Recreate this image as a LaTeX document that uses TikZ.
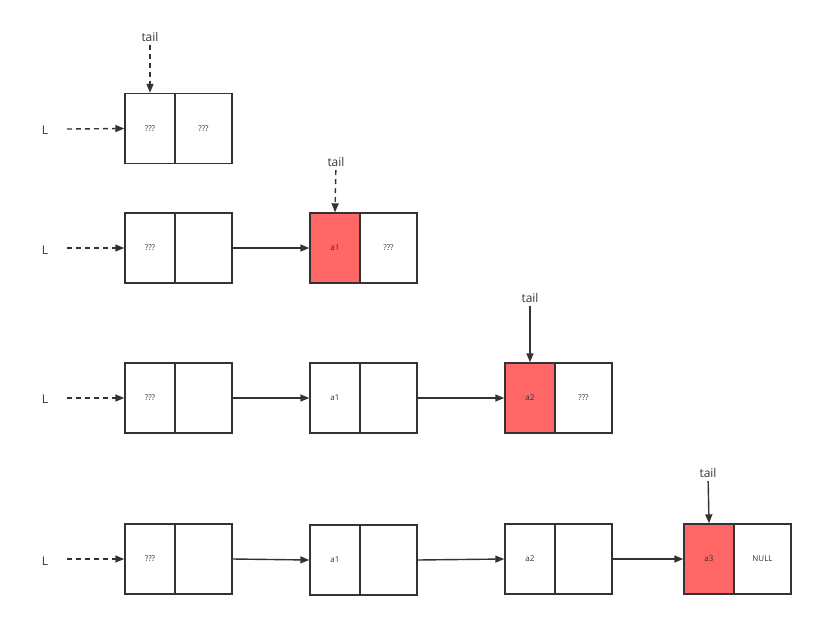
\documentclass[tikz,border=0pt]{standalone}
\usepackage{fontspec}
\setmainfont{Open Sans}
\usetikzlibrary{arrows.meta}
\definecolor{lc}{HTML}{333333}
\definecolor{red}{HTML}{FF6666}
\begin{document}
\begin{tikzpicture}[x=1pt,y=-1pt,
  cell/.style={draw=lc,line width=1.4pt,minimum height=70pt,inner sep=0pt,font=\fontsize{8}{9}\selectfont,text=lc},
  lw/.style={cell,minimum width=50pt},
  rw/.style={cell,minimum width=57pt},
  rd/.style={fill=red},
  lab/.style={font=\fontsize{12}{14}\selectfont,text=lc},
  arr/.style={-{Triangle[length=9pt,width=7pt]},line width=1.4pt,draw=lc},
  darr/.style={arr,dash pattern=on 5pt off 4pt}]
\useasboundingbox (0,0) rectangle (814,619);
% row 1
\node[lw] (a1) at (150,128.5) {???};
\node[rw] (b1) at (203.5,128.5) {???};
\node[lab] (L1) at (45,130) {L};
\node[lab] (t1) at (150,37) {tail};
\coordinate (l1) at (67,129);
\draw[darr] (l1) -- (a1.west);
\draw[darr] (t1) -- (a1.north);
% row 2
\node[lw] (a2) at (150,248) {???};
\node[rw] (b2) at (203.5,248) {};
\node[lw,rd] (c2) at (335,248) {a1};
\node[rw] (d2) at (388.5,248) {???};
\node[lab] (L2) at (45,250) {L};
\node[lab] (t2) at (336,162) {tail};
\coordinate (l2) at (67,248);
\draw[darr] (l2) -- (a2.west);
\draw[darr] (t2) -- (c2.north);
\draw[arr] (b2.east) -- (c2.west);
% row 3
\node[lw] (a3) at (150,398) {???};
\node[rw] (b3) at (203.5,398) {};
\node[lw] (c3) at (335,398) {a1};
\node[rw] (d3) at (388.5,398) {};
\node[lw,rd] (e3) at (530,398) {a2};
\node[rw] (f3) at (583.5,398) {???};
\node[lab] (L3) at (45,399) {L};
\node[lab] (t3) at (530,298) {tail};
\coordinate (l3) at (67,398);
\draw[darr] (l3) -- (a3.west);
\draw[arr] (t3) -- (e3.north);
\draw[arr] (b3.east) -- (c3.west);
\draw[arr] (d3.east) -- (e3.west);
% row 4
\node[lw] (a4) at (150,559) {???};
\node[rw] (b4) at (203.5,559) {};
\node[lw] (c4) at (335,560) {a1};
\node[rw] (d4) at (388.5,560) {};
\node[lw] (e4) at (530,559) {a2};
\node[rw] (f4) at (583.5,559) {};
\node[lw,rd] (g4) at (709,559) {a3};
\node[rw] (h4) at (762.5,559) {NULL};
\node[lab] (L4) at (45,561) {L};
\node[lab] (t4) at (708,473) {tail};
\coordinate (l4) at (67,559);
\draw[darr] (l4) -- (a4.west);
\draw[arr] (t4) -- (g4.north);
\draw[arr] (b4.east) -- (c4.west);
\draw[arr] (d4.east) -- (e4.west);
\draw[arr] (f4.east) -- (g4.west);
\end{tikzpicture}
\end{document}
